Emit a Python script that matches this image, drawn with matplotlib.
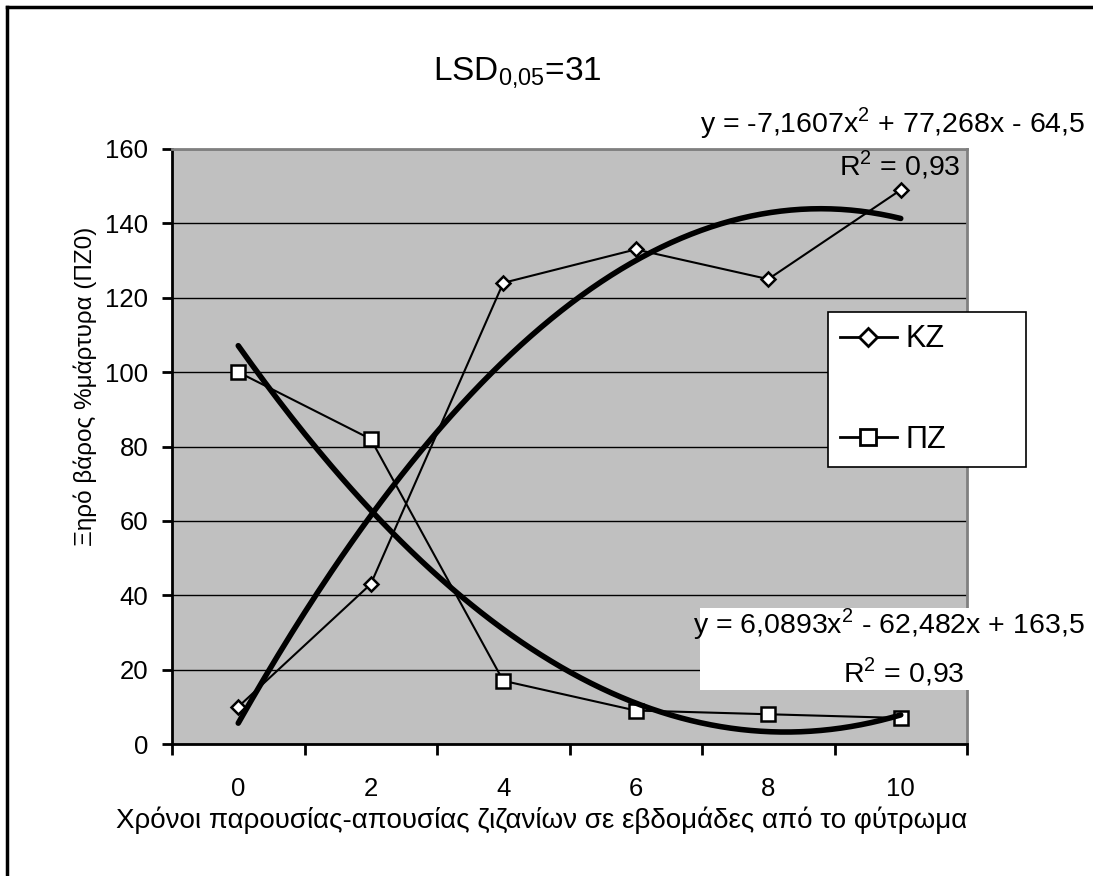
import numpy as np
import matplotlib.pyplot as plt
from matplotlib.patches import Rectangle
from matplotlib.lines import Line2D

plt.rcParams['font.family'] = ['Liberation Sans', 'DejaVu Sans']
plt.rcParams['mathtext.fontset'] = 'custom'
plt.rcParams['mathtext.rm'] = 'Liberation Sans'

weeks = ['0', '2', '4', '6', '8', '10']
kz = [10, 43, 124, 133, 125, 149]
pz = [100, 82, 17, 9, 8, 7]

W, H = 1093, 876
fig = plt.figure(figsize=(W / 100, H / 100), dpi=100)
ax = fig.add_axes([172 / W, 1 - 744 / H, (967 - 172) / W, (744 - 149) / H])
ax.set_facecolor('#c0c0c0')

x = np.arange(len(weeks))
ax.plot(x, kz, color='black', lw=1.5, marker='D', ms=7.5, mfc='white', mec='black', mew=1.8, label='KZ', zorder=3)
ax.plot(x, pz, color='black', lw=1.5, marker='s', ms=10, mfc='white', mec='black', mew=1.8, label='ΠZ', zorder=3)

# second order polynomial trendlines (excel style, x = 1..6)
idx = x + 1
xs = np.linspace(1, len(weeks), 200)
for vals in (kz, pz):
    c = np.polyfit(idx, vals, 2)
    ax.plot(xs - 1, np.polyval(c, xs), color='black', lw=4, zorder=4, solid_capstyle='round')

ax.set_xlim(-0.5, len(weeks) - 0.5)
ax.set_ylim(0, 160)
ax.set_yticks(np.arange(0, 161, 20))
ax.yaxis.grid(True, color='black', lw=1)
ax.set_axisbelow(True)
ax.set_xticks(np.arange(-0.5, len(weeks), 1))
ax.set_xticklabels([])
ax.set_xticks(x, minor=True)
ax.set_xticklabels(weeks, minor=True)
ax.tick_params(axis='x', which='major', direction='out', length=8, width=2)
ax.tick_params(axis='x', which='minor', length=0, pad=24, labelsize=18.5)
ax.tick_params(axis='y', direction='out', length=7, width=2, labelsize=18.5, pad=10)
for s in ('left', 'bottom'):
    ax.spines[s].set_linewidth(2)
for s in ('top', 'right'):
    ax.spines[s].set_color('#808080')
    ax.spines[s].set_linewidth(2)

fig.text(85 / W, 1 - 386 / H, 'Ξηρό βάρος %μάρτυρα (ΠΖ0)', rotation=90, ha='center', va='center', fontsize=17.5)
fig.text(542 / W, 1 - 828 / H, 'Χρόνοι παρουσίας-απουσίας ζιζανίων σε εβδομάδες από το φύτρωμα',
         ha='center', va='baseline', fontsize=20)

fig.text(433 / W, 1 - 80 / H, r'LSD$_{\mathregular{0{,}05}}$=31', ha='left', va='baseline', fontsize=24)

fig.text(1085 / W, 1 - 132 / H, r'y = -7,1607x$^{\mathregular{2}}$ + 77,268x - 64,5', ha='right', va='baseline', fontsize=20.5)
fig.text(960 / W, 1 - 175 / H, r'R$^{\mathregular{2}}$ = 0,93', ha='right', va='baseline', fontsize=20.5)

fig.patches.append(Rectangle((700 / W, 1 - 690 / H), 393 / W, 82 / H, transform=fig.transFigure,
                             facecolor='white', edgecolor='none', zorder=5))
fig.text(1085 / W, 1 - 633 / H, r'y = 6,0893x$^{\mathregular{2}}$ - 62,482x + 163,5', ha='right', va='baseline', fontsize=20.5, zorder=6)
fig.text(964 / W, 1 - 682 / H, r'R$^{\mathregular{2}}$ = 0,93', ha='right', va='baseline', fontsize=20.5, zorder=6)

handles = [Line2D([], [], color='black', lw=2, marker='D', ms=9, mfc='white', mec='black', mew=2),
           Line2D([], [], color='black', lw=2, marker='s', ms=11, mfc='white', mec='black', mew=2)]
leg = fig.legend(handles, ['KZ', 'ΠZ'], loc='upper left', bbox_to_anchor=(828 / W, 1 - 468 / H, 198 / W, 156 / H),
                 mode='expand', fontsize=22, frameon=True, fancybox=False, edgecolor='black', framealpha=1,
                 labelspacing=2.3, handlelength=1.85, handletextpad=0.3, borderpad=0.4, borderaxespad=0)
leg.get_frame().set_linewidth(1.2)

# chart border (only top and left visible)
fig.add_artist(Line2D([7 / W, 1], [1 - 6.5 / H, 1 - 6.5 / H], color='black', lw=2.5, transform=fig.transFigure))
fig.add_artist(Line2D([7 / W, 7 / W], [0, 1 - 6.5 / H], color='black', lw=2.5, transform=fig.transFigure))

fig.savefig('out.png', dpi=100)
